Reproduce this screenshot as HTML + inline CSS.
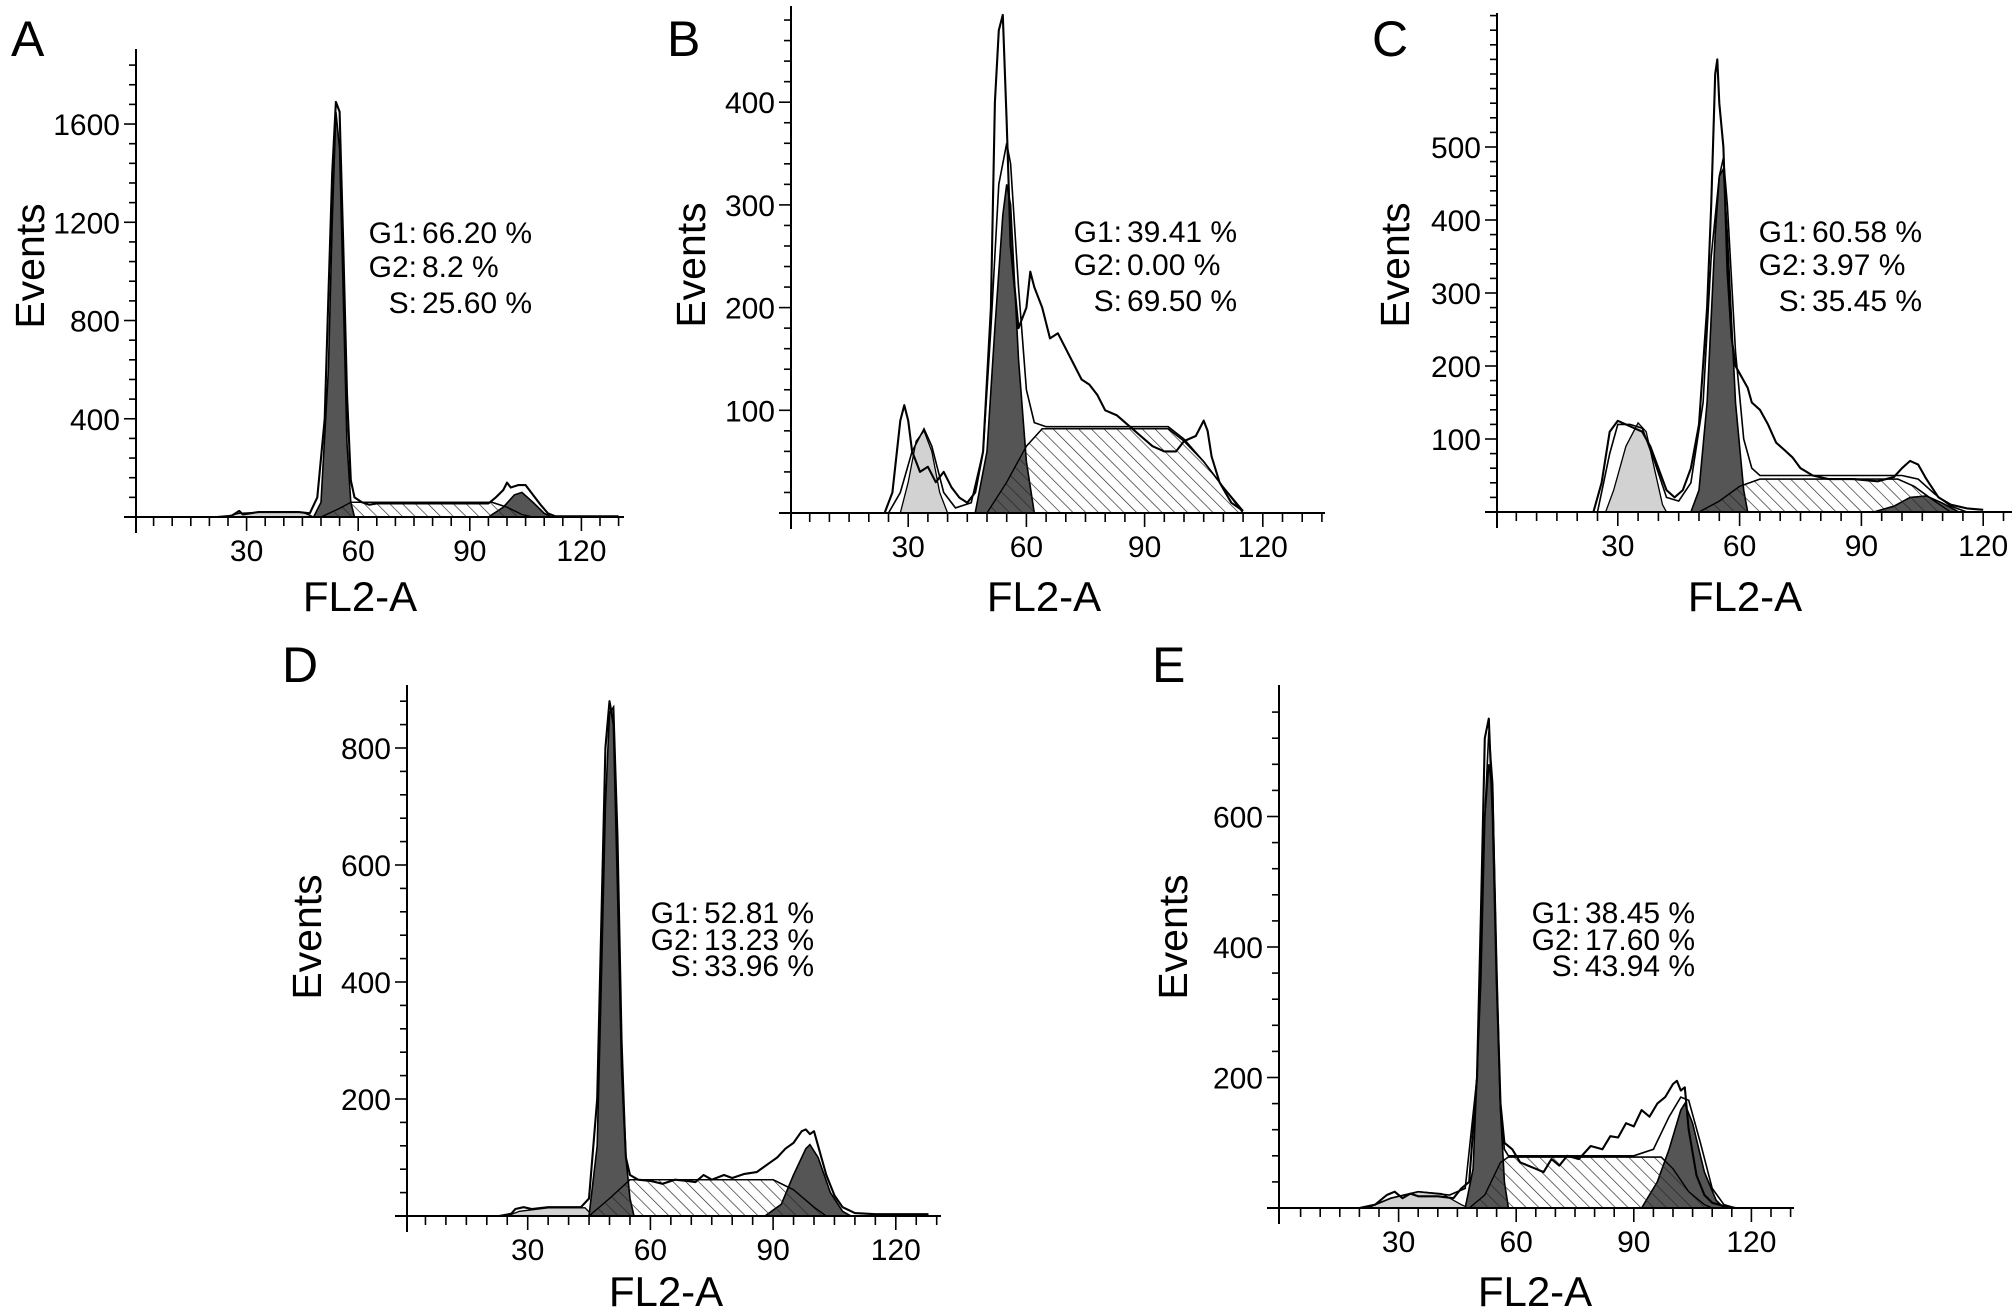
<!DOCTYPE html>
<html><head><meta charset="utf-8"><title>Cell cycle histograms</title>
<style>html,body{margin:0;padding:0;background:#fff;width:2016px;height:1315px;overflow:hidden}svg text{font-family:"Liberation Sans",Arial,sans-serif;fill:#000}</style>
</head><body>
<svg id="fig" width="2016" height="1315" viewBox="0 0 2016 1315" xmlns="http://www.w3.org/2000/svg">
<defs>
<pattern id="hatch" patternUnits="userSpaceOnUse" width="9" height="9" patternTransform="rotate(-45)">
<line x1="0" y1="0" x2="0" y2="9" stroke="#222" stroke-width="1.3"/>
</pattern>
</defs>
</svg>
<script>
// ---- Panel A data ----
const aSub=[[24,0],[28,15],[35,20],[45,20],[48,0]];
const aS=[[50,0],[55,35],[58,60],[96,60],[100,40],[104,10],[107,0]];
const aG1=[[48,0],[50,60],[52,600],[53,1200],[54,1650],[55,1500],[56,900],[57,300],[58,60],[59,0]];
const aG2=[[95,0],[99,40],[102,90],[104,100],[107,60],[110,15],[112,0]];
const aFit=[];
const aRaw=[[22,0],[26,5],[28,25],[29,10],[31,15],[33,20],[44,20],[47,15],[49,80],[51,400],[52,900],[53,1400],[54,1690],[55,1650],[56,1100],[57,500],[58,150],[59,80],[61,60],[63,50],[65,55],[80,55],[95,55],[97,80],[99,110],[100,140],[101,120],[103,130],[105,130],[107,90],[109,50],[111,15],[113,3],[130,3]];
const aTicks=[400,800,1200,1600];
const aStats=[["G1:","66.20 %"],["G2:","8.2 %"],["S:","25.60 %"]];
// ---- Panel B data ----
const bSub=[[28,0],[30,30],[32,70],[34,80],[36,60],[38,20],[40,0]];
const bS=[[50,0],[55,30],[60,65],[64,82],[96,82],[100,70],[105,50],[110,25],[115,0]];
const bG1=[[47,0],[50,60],[52,180],[54,290],[55,320],[56,300],[58,150],[60,50],[62,0]];
const bG2=[];
const bFit=[[25,0],[28,20],[31,60],[34,82],[36,65],[39,20],[42,5],[46,10],[49,60],[51,180],[53,320],[55,360],[56,340],[58,220],[60,120],[62,88],[65,84],[96,84],[100,72],[105,50],[110,25],[115,2]];
const bRaw=[[24,0],[26,20],[28,90],[29,105],[30,90],[31,60],[33,40],[35,45],[37,30],[39,40],[41,25],[43,15],[45,10],[47,20],[49,60],[51,200],[52,400],[53,470],[54,485],[55,380],[56,260],[58,180],[60,200],[61,235],[62,220],[64,200],[66,170],[68,175],[70,160],[72,145],[74,130],[76,125],[78,115],[80,100],[83,95],[86,85],[89,75],[92,65],[95,60],[98,60],[100,70],[103,75],[105,90],[106,80],[107,55],[109,30],[112,10],[115,2]];
const bTicks=[100,200,300,400];
const bStats=[["G1:","39.41 %"],["G2:","0.00 %"],["S:","69.50 %"]];
// ---- Panel C data ----
const cSub=[[27,0],[29,30],[32,90],[35,122],[37,110],[39,60],[41,10],[42,0]];
const cS=[[50,0],[55,15],[60,35],[65,45],[99,45],[103,35],[108,15],[112,0]];
const cG1=[[48,0],[50,30],[52,150],[54,380],[55,460],[56,470],[57,380],[59,150],[61,30],[62,0]];
const cG2=[[93,0],[98,8],[102,20],[106,22],[110,12],[114,0]];
const cFit=[[25,0],[28,80],[30,120],[33,120],[36,115],[39,70],[42,20],[45,15],[48,40],[51,150],[53,350],[55,460],[56,485],[57,420],[59,220],[61,100],[63,60],[65,50],[100,50],[104,45],[108,25],[112,8],[116,0]];
const cRaw=[[24,0],[26,40],[28,110],[30,125],[32,120],[34,115],[36,110],[38,90],[40,60],[42,30],[44,20],[46,30],[48,60],[50,120],[52,280],[53,420],[54,600],[54.5,620],[55,560],[56,500],[57,330],[58,240],[59,200],[60,190],[62,170],[63,150],[65,140],[67,120],[69,95],[71,85],[73,75],[75,60],[78,50],[82,45],[88,45],[94,42],[98,48],[100,60],[102,70],[104,65],[106,45],[109,20],[112,10],[116,5],[120,3]];
const cTicks=[100,200,300,400,500];
const cStats=[["G1:","60.58 %"],["G2:","3.97 %"],["S:","35.45 %"]];
// ---- Panel D data ----
const dSub=[[25,0],[28,8],[35,14],[44,14],[46,0]];
const dS=[[45,0],[50,30],[55,62],[90,62],[95,45],[100,15],[103,0]];
const dG1=[[45,0],[47,120],[48,400],[49,700],[50,860],[51,870],[52,650],[53,300],[54,100],[55,30],[56,0]];
const dG2=[[88,0],[92,20],[95,70],[98,115],[99,122],[101,100],[104,40],[107,8],[109,0]];
const dFit=[];
const dRaw=[[23,0],[26,4],[27,12],[29,15],[31,12],[35,15],[43,15],[45,30],[47,200],[48,500],[49,800],[50,880],[51,840],[52,560],[53,250],[54,100],[55,70],[57,62],[60,60],[63,55],[66,62],[69,60],[71,58],[73,70],[75,62],[78,70],[80,65],[83,72],[86,75],[89,90],[91,100],[93,115],[95,125],[97,145],[98,148],[99,140],[100,145],[101,120],[103,70],[105,35],[107,15],[110,5],[115,3],[128,3]];
const dTicks=[200,400,600,800];
const dStats=[["G1:","52.81 %"],["G2:","13.23 %"],["S:","33.96 %"]];
// ---- Panel E data ----
const eSub=[[22,0],[28,15],[35,25],[41,22],[46,5],[48,0]];
const eS=[[48,0],[52,20],[56,70],[58,78],[97,78],[100,60],[104,25],[108,5],[110,0]];
const eG1=[[47,0],[49,60],[51,350],[52,600],[53,680],[54,640],[55,380],[56,150],[57,40],[58,0]];
const eG2=[[92,0],[96,40],[99,90],[102,150],[103,160],[105,130],[108,55],[111,12],[113,0]];
const eFit=[[22,0],[28,15],[35,25],[43,20],[47,30],[50,200],[52,600],[53,730],[54,650],[55,350],[56,150],[57,90],[58,80],[90,80],[95,90],[99,140],[102,170],[104,165],[107,100],[110,30],[113,5],[116,0]];
const eRaw=[[20,0],[24,5],[27,20],[29,25],[31,15],[33,22],[35,18],[40,18],[44,15],[46,30],[48,40],[50,200],[51,450],[52,720],[53,750],[54,600],[55,350],[56,160],[57,100],[59,90],[61,70],[63,65],[65,60],[67,55],[69,75],[71,65],[73,80],[76,75],[79,95],[82,90],[84,110],[86,108],[88,130],[90,125],[92,150],[94,140],[96,160],[98,170],[100,190],[101,195],[102,180],[103,185],[104,120],[106,50],[108,20],[110,8],[113,3],[116,0]];
const eTicks=[200,400,600];
const eStats=[["G1:","38.45 %"],["G2:","17.60 %"],["S:","43.94 %"]];
const xTicks=[30,60,90,120];

const NS="http://www.w3.org/2000/svg";
const svg=document.getElementById('fig');
function mk(tag,attrs,parent){const e=document.createElementNS(NS,tag);for(const k in attrs)e.setAttribute(k,attrs[k]);(parent||svg).appendChild(e);return e;}

const layouts=[
 {id:'a',L:'A',ox:136,oy:517,top:49,xEnd:624,x0:135,kx:3.72,ky:0.2456,minor:80,lx:11,ly:56,evX:44,evY:266,flX:360,flY:611,colX:417,st:[243,277,313]},
 {id:'b',L:'B',ox:791,oy:513,top:6,xEnd:1325,x0:790,kx:3.94,ky:1.027,minor:20,lx:667,ly:56,evX:705,evY:265,flX:1044,flY:611,colX:1122,st:[242,275,311]},
 {id:'c',L:'C',ox:1497,oy:512,top:13,xEnd:2012,x0:1496,kx:4.06,ky:0.73,minor:20,lx:1372,ly:56,evX:1409,evY:265,flX:1745,flY:611,colX:1807,st:[242,275,311]},
 {id:'d',L:'D',ox:407,oy:1216,top:685,xEnd:941,x0:405,kx:4.09,ky:0.585,minor:40,lx:282,ly:682,evX:321,evY:937,flX:666,flY:1306,colX:699,st:[923,950,976]},
 {id:'e',L:'E',ox:1279,oy:1208,top:685,xEnd:1794,x0:1281,kx:3.92,ky:0.6525,minor:40,lx:1152,ly:682,evX:1187,evY:937,flX:1535,flY:1306,colX:1580,st:[923,950,976]}
];
const datasets={a:[aSub,aS,aG1,aG2,aFit,aRaw,aTicks,aStats],b:[bSub,bS,bG1,bG2,bFit,bRaw,bTicks,bStats],c:[cSub,cS,cG1,cG2,cFit,cRaw,cTicks,cStats],d:[dSub,dS,dG1,dG2,dFit,dRaw,dTicks,dStats],e:[eSub,eS,eG1,eG2,eFit,eRaw,eTicks,eStats]};

layouts.forEach(P=>{
 const [sub,S,g1,g2,fit,raw,yt,stats]=datasets[P.id];
 const X=v=>P.x0+v*P.kx, Y=v=>P.oy-v*P.ky;
 const g=mk('g',{});
 
 
 const pts=arr=>arr.map(p=>X(p[0]).toFixed(1)+','+Y(p[1]).toFixed(1)).join(' ');
 function poly(arr,fill,name,sw){ if(!arr.length)return; const e=mk('polygon',{points:pts(arr),fill:fill,stroke:'#000','stroke-width':sw},g);   }
 poly(S,'#fff','s-phase-area',1.4);
 poly(sub,'#d2d2d2','sub-g1-peak',1.3);
 poly(g1,'#555','g1-peak',1.6);
 poly(g2,'#555','g2-peak',1.6);
 poly(S,'url(#hatch)','s-phase-hatch',1.4);
 if(fit.length){const f=mk('polyline',{points:pts(fit),fill:'none',stroke:'#000','stroke-width':1.6},g);  }
 const r=mk('polyline',{points:pts(raw),fill:'none',stroke:'#000','stroke-width':2.1,'stroke-linejoin':'round'},g);
 
 
 const ya=mk('line',{x1:P.ox,y1:P.top,x2:P.ox,y2:P.oy+16,stroke:'#000','stroke-width':2},g);
  
 const xa=mk('line',{x1:P.ox-12,y1:P.oy,x2:P.xEnd,y2:P.oy,stroke:'#000','stroke-width':2},g);
  
 for(let v=P.minor;Y(v)>=P.top+2;v+=P.minor){
  const major=yt.includes(v);
  const t=mk('line',{x1:P.ox-(major?12:7),y1:Y(v),x2:P.ox,y2:Y(v),stroke:'#000','stroke-width':1.6},g);
   
 }
 yt.forEach(v=>{const t=mk('text',{x:P.ox-16,y:Y(v)+11,'font-size':30,'text-anchor':'end'},g);t.textContent=v;
   });
 for(let v=5;X(v)<=P.xEnd;v+=5){
  const major=xTicks.includes(v);
  const t=mk('line',{x1:X(v),y1:P.oy,x2:X(v),y2:P.oy+(major?14:9),stroke:'#000','stroke-width':1.6},g);
   
 }
 xTicks.forEach(v=>{const t=mk('text',{x:X(v),y:P.oy+44,'font-size':30,'text-anchor':'middle'},g);t.textContent=v;
   });
 const ev=mk('text',{x:P.evX,y:P.evY,'font-size':41,'text-anchor':'middle',transform:`rotate(-90 ${P.evX} ${P.evY})`},g);ev.textContent='Events';
  
 const fl=mk('text',{x:P.flX,y:P.flY,'font-size':42,'text-anchor':'middle'},g);fl.textContent='FL2-A';
  
 const lt=mk('text',{x:P.lx,y:P.ly,'font-size':50},g);lt.textContent=P.L;
  
 stats.forEach((s,i)=>{
  const a=mk('text',{x:P.colX,y:P.st[i],'font-size':30,'text-anchor':'end'},g);a.textContent=s[0];
   
  const b=mk('text',{x:P.colX+5,y:P.st[i],'font-size':30},g);b.textContent=s[1];
   
 });
});
</script>
</body></html>
